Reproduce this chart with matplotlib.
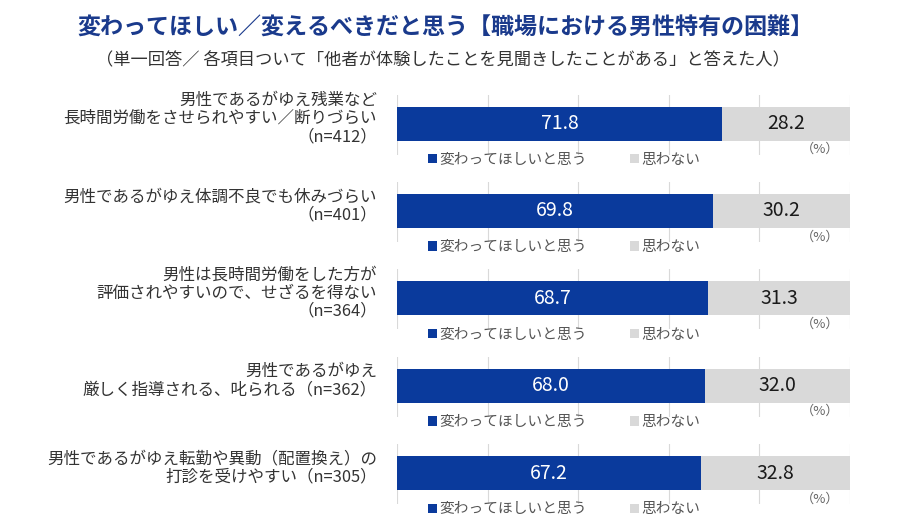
import matplotlib
matplotlib.use('Agg')
import matplotlib.pyplot as plt

plt.rcParams['font.family'] = ['Noto Sans CJK JP', 'DejaVu Sans']

items = ['男性であるがゆえ残業など\n長時間労働をさせられやすい／断りづらい\n（n=412）',
         '男性であるがゆえ体調不良でも休みづらい\n（n=401）',
         '男性は長時間労働をした方が\n評価されやすいので、せざるを得ない\n（n=364）',
         '男性であるがゆえ\n厳しく指導される、叱られる（n=362）',
         '男性であるがゆえ転勤や異動（配置換え）の\n打診を受けやすい（n=305）']
yes_vals = [71.8, 69.8, 68.7, 68.0, 67.2]
no_vals = [28.2, 30.2, 31.3, 32.0, 32.8]
legend_labels = ['変わってほしいと思う', '思わない']

blue = '#0a3a9c'
gray = '#d9d9d9'

W, H = 900, 521
fig = plt.figure(figsize=(9, 5.21), dpi=100)

fig.text(445/W, 1-28/H, '変わってほしい／変えるべきだと思う【職場における男性特有の困難】',
         ha='center', va='center', fontsize=16.6, fontweight='bold', color='#1a3a8c')
fig.text(443/W, 1-60/H, '（単一回答／ 各項目ついて「他者が体験したことを見聞きしたことがある」と答えた人）',
         ha='center', va='center', fontsize=12.4, color='#333333')

bar_px = 34
top_pad, bot_pad = 12, 14
for i in range(len(items)):
    cy = 123.5 + 87.4*i
    ax_h = bar_px + top_pad + bot_pad
    bottom = 1 - (cy + bar_px/2 + bot_pad)/H
    ax = fig.add_axes([397/W, bottom, 453/W, ax_h/H])
    b1 = ax.barh(0, yes_vals[i], height=1, color=blue, zorder=2)
    b2 = ax.barh(0, no_vals[i], left=yes_vals[i], height=1, color=gray, zorder=2)
    ax.text(yes_vals[i]/2, 0, f'{yes_vals[i]:.1f}', ha='center', va='center',
            color='white', fontsize=14, zorder=3)
    ax.text(yes_vals[i] + no_vals[i]/2, 0, f'{no_vals[i]:.1f}', ha='center', va='center',
            color='#1a1a1a', fontsize=14, zorder=3)
    ax.set_xlim(0, 100)
    ax.set_ylim(-0.5 - bot_pad/bar_px, 0.5 + top_pad/bar_px)
    ax.set_xticks(range(0, 101, 20))
    ax.set_yticks([])
    ax.tick_params(axis='x', length=0, labelbottom=False)
    ax.grid(axis='x', color='#d9d9d9', linewidth=0.8, zorder=0)
    for s in ax.spines.values():
        s.set_visible(False)
    ax.text(97.6, -0.5 - 9/bar_px, '（%）', ha='right', va='center', fontsize=9.5, color='#666666')
    leg = ax.legend([b1, b2], legend_labels, loc='center left', bbox_to_anchor=(0.068, -0.09),
                    ncol=2, frameon=False, fontsize=10.6, handlelength=0.6, handleheight=0.6,
                    handletextpad=0.2, columnspacing=2.9, borderpad=0, borderaxespad=0)
    for t in leg.get_texts():
        t.set_color('#555555')
    fig.text(377/W, 1-(cy-5)/H, items[i], ha='right', va='center', fontsize=11.9,
             color='#333333', linespacing=1.08, multialignment='right')

fig.savefig('out.png', dpi=100)
